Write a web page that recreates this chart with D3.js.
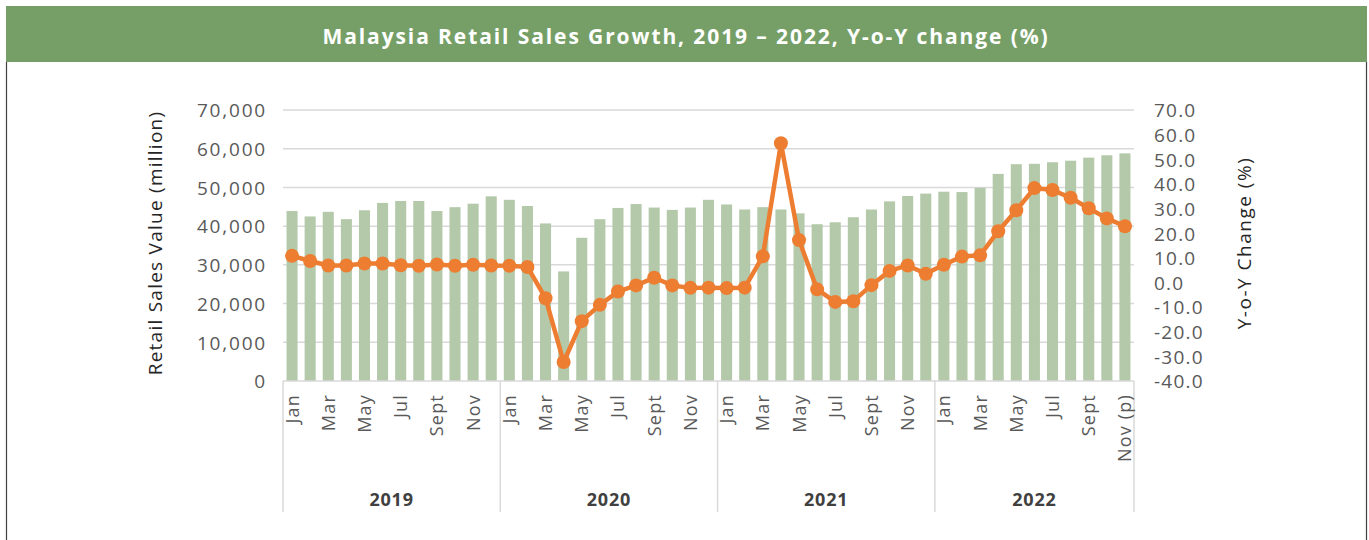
<!DOCTYPE html>
<html>
<head>
<meta charset="utf-8">
<script src="https://cdn.jsdelivr.net/npm/d3@7/dist/d3.min.js"></script>
<style>
  body { margin: 0; background: #fff; }
  svg text { font-family: "Open Sans", sans-serif; }
</style>
</head>
<body>
<div id="chart"></div>
<script>
var years = ["2019", "2020", "2021", "2022"];
// month label for each bar (only every second one is printed)
var monthLabels = [
  "Jan","Feb","Mar","Apr","May","Jun","Jul","Aug","Sept","Oct","Nov","Dec",
  "Jan","Feb","Mar","Apr","May","Jun","Jul","Aug","Sept","Oct","Nov","Dec",
  "Jan","Feb","Mar","Apr","May","Jun","Jul","Aug","Sept","Oct","Nov","Dec",
  "Jan","Feb","Mar","Apr","May","Jun","Jul","Aug","Sept","Oct","Nov (p)"
];
var salesValue = [
  43900, 42500, 43700, 41800, 44100, 46000, 46500, 46500, 43900, 44900, 45800, 47700,
  46800, 45200, 40700, 28300, 37000, 41800, 44700, 45700, 44800, 44200, 44800, 46800,
  45600, 44300, 44900, 44300, 43300, 40500, 41000, 42300, 44300, 46400, 47800, 48400,
  48900, 48800, 49900, 53500, 56000, 56100, 56500, 56900, 57700, 58300, 58800
];
var yoyChange = [
  10.8, 8.7, 6.9, 6.9, 7.7, 7.7, 7.0, 6.8, 7.3, 6.8, 7.2, 6.9,
  6.8, 6.3, -6.4, -32.3, -15.7, -9.1, -3.7, -1.2, 1.9, -1.2, -2.2, -2.1,
  -2.3, -2.1, 10.6, 56.5, 17.2, -2.8, -7.9, -7.6, -1.1, 4.7, 6.9, 3.5,
  7.2, 10.5, 11.0, 20.8, 29.3, 38.3, 37.5, 34.4, 30.1, 26.0, 22.8
];
var leftTicks = [0, 10000, 20000, 30000, 40000, 50000, 60000, 70000];
var rightTicks = [-40, -30, -20, -10, 0, 10, 20, 30, 40, 50, 60, 70];

var width = 1369;
var height = 540;
var plot = { left: 283, right: 1134, top: 110, bottom: 381 };

var svg = d3.select("#chart").append("svg")
  .attr("width", width).attr("height", height);

// title band
svg.append("rect")
  .attr("x", 6).attr("y", 6).attr("width", 1361).attr("height", 56)
  .attr("fill", "#769f67");
svg.append("text")
  .attr("x", 686).attr("y", 44)
  .attr("text-anchor", "middle")
  .attr("fill", "#fff")
  .style("font-size", "21px").style("font-weight", "bold")
  .style("letter-spacing", "1.9px")
  .text("Malaysia Retail Sales Growth, 2019 – 2022, Y-o-Y change (%)");

// frame sides
svg.append("line").attr("x1", 6.5).attr("x2", 6.5).attr("y1", 62).attr("y2", height)
  .attr("stroke", "#404040").attr("stroke-width", 1.2);
svg.append("line").attr("x1", 1366.5).attr("x2", 1366.5).attr("y1", 62).attr("y2", height)
  .attr("stroke", "#404040").attr("stroke-width", 1.2);

var idx = d3.range(salesValue.length);
var x = d3.scaleBand().domain(idx).range([plot.left, plot.right]).paddingInner(0.39).paddingOuter(0.195);
var yL = d3.scaleLinear().domain([0, 70000]).range([plot.bottom, plot.top]);
var yR = d3.scaleLinear().domain([-40, 70]).range([plot.bottom, plot.top]);

// gridlines
svg.append("g").selectAll("line").data(leftTicks.slice(1)).enter().append("line")
  .attr("x1", plot.left).attr("x2", plot.right)
  .attr("y1", function(d){ return yL(d); }).attr("y2", function(d){ return yL(d); })
  .attr("stroke", "#d9d9d9").attr("stroke-width", 1.5);

// bars
svg.append("g").selectAll("rect").data(salesValue).enter().append("rect")
  .attr("x", function(d, i){ return x(i); })
  .attr("width", x.bandwidth())
  .attr("y", function(d){ return yL(d); })
  .attr("height", function(d){ return yL(0) - yL(d); })
  .attr("fill", "#b3c9a9");

// left axis
var axL = svg.append("g").attr("transform", "translate(" + (plot.left - 16) + ",0)")
  .call(d3.axisLeft(yL).tickValues(leftTicks).tickSize(0).tickFormat(d3.format(",")));
axL.select(".domain").remove();
axL.selectAll("text").attr("fill", "#595959")
  .style("font-size", "19px").style("letter-spacing", "1.8px").attr("dy", "0.36em").attr("x", 0);

// right axis
var axR = svg.append("g").attr("transform", "translate(" + (plot.right + 20) + ",0)")
  .call(d3.axisRight(yR).tickValues(rightTicks).tickSize(0).tickFormat(d3.format(".1f")));
axR.select(".domain").remove();
axR.selectAll("text").attr("fill", "#595959")
  .style("font-size", "19px").style("letter-spacing", "1.2px").attr("dy", "0.36em").attr("x", 0)
  .text(function(d){ return d3.format(".1f")(d).replace("−", "-"); });

// axis titles
svg.append("text")
  .attr("transform", "translate(162,243) rotate(-90)")
  .attr("text-anchor", "middle").attr("fill", "#262626")
  .style("font-size", "19px").style("letter-spacing", "1.25px")
  .text("Retail Sales Value (million)");
svg.append("text")
  .attr("transform", "translate(1251,243) rotate(-90)")
  .attr("text-anchor", "middle").attr("fill", "#262626")
  .style("font-size", "19px").style("letter-spacing", "1.5px")
  .text("Y-o-Y Change (%)");

// category axis: baseline, group separators, labels
var axisGroup = svg.append("g");
axisGroup.append("line")
  .attr("x1", plot.left).attr("x2", plot.right).attr("y1", plot.bottom).attr("y2", plot.bottom)
  .attr("stroke", "#d9d9d9").attr("stroke-width", 1.5);
var step = x.step();
var bounds = d3.range(years.length + 1).map(function(k){
  return Math.min(plot.left + k * 12 * step, plot.right);
});
axisGroup.selectAll(".sep").data(bounds).enter().append("line")
  .attr("class", "sep")
  .attr("x1", function(d){ return d; }).attr("x2", function(d){ return d; })
  .attr("y1", plot.bottom).attr("y2", 512)
  .attr("stroke", "#d9d9d9").attr("stroke-width", 1.5);

axisGroup.selectAll(".month").data(idx.filter(function(i){ return i % 2 === 0; })).enter().append("text")
  .attr("class", "month")
  .attr("transform", function(i){
    return "translate(" + (x(i) + x.bandwidth() / 2) + ",394) rotate(-90)";
  })
  .attr("text-anchor", "end").attr("dy", "0.36em")
  .attr("fill", "#595959")
  .style("font-size", "18px").style("letter-spacing", "1.2px")
  .text(function(i){ return monthLabels[i]; });

axisGroup.selectAll(".year").data(years).enter().append("text")
  .attr("class", "year")
  .attr("x", function(d, k){ return (bounds[k] + bounds[k + 1]) / 2; })
  .attr("y", 506)
  .attr("text-anchor", "middle").attr("fill", "#404040")
  .style("font-size", "18px").style("font-weight", "bold").style("letter-spacing", "0.8px")
  .text(function(d){ return d; });

// yoy line
var line = d3.line()
  .x(function(d, i){ return x(i) + x.bandwidth() / 2; })
  .y(function(d){ return yR(d); });
svg.append("path").datum(yoyChange)
  .attr("d", line)
  .attr("fill", "none").attr("stroke", "#ed7d31").attr("stroke-width", 4.5)
  .attr("stroke-linejoin", "round");
svg.append("g").selectAll("circle").data(yoyChange).enter().append("circle")
  .attr("cx", function(d, i){ return x(i) + x.bandwidth() / 2; })
  .attr("cy", function(d){ return yR(d); })
  .attr("r", 7)
  .attr("fill", "#ed7d31");
</script>
</body>
</html>
